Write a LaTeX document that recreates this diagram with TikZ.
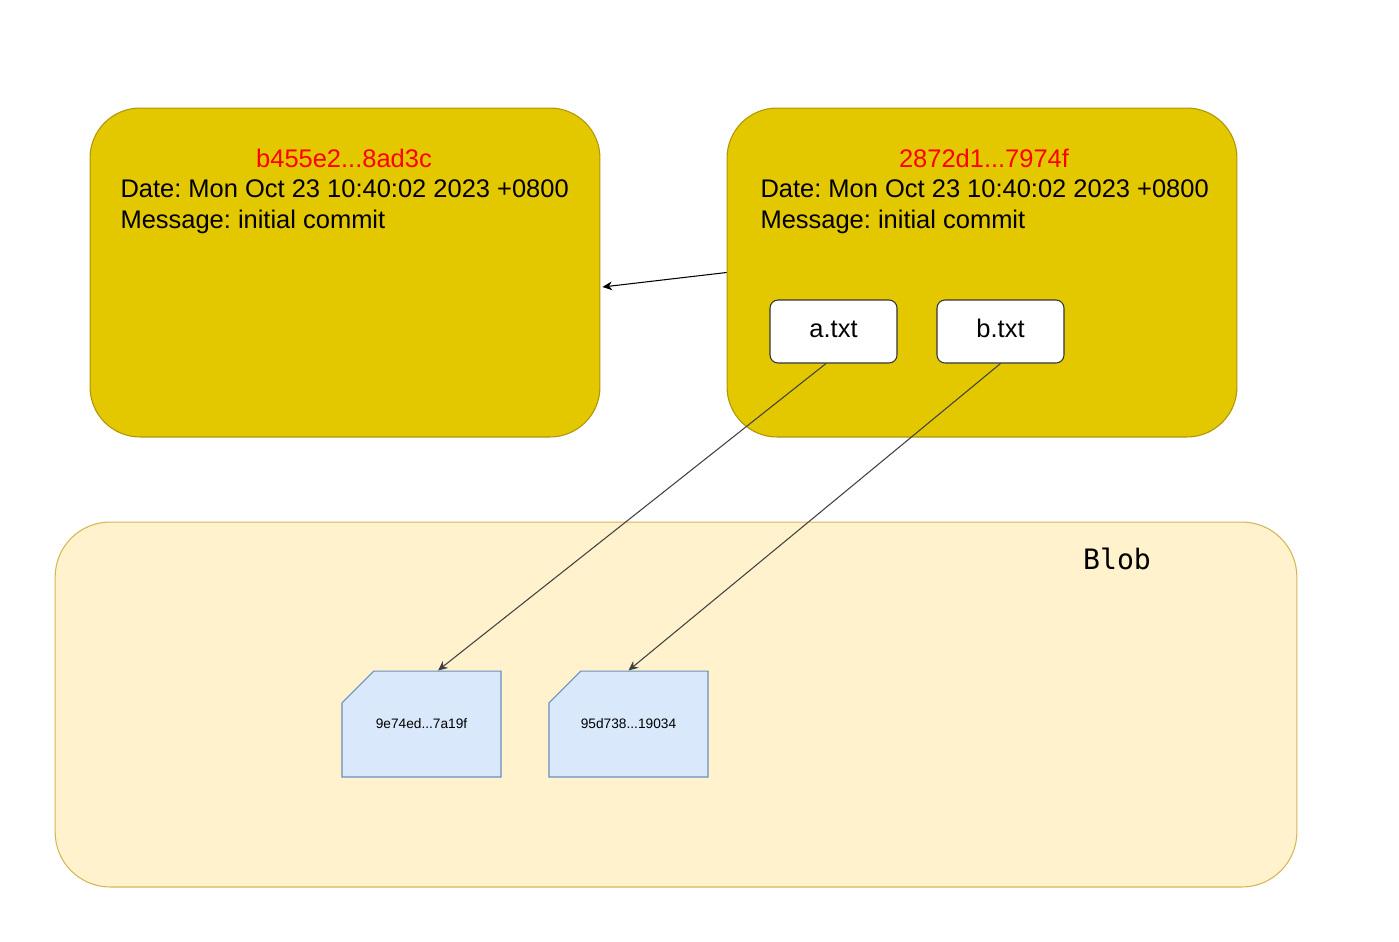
\documentclass[tikz,border=0pt]{standalone}
\usepackage{fontspec}
\setmainfont{Liberation Sans}
\newfontfamily\blobfont{DejaVu Sans Mono}
\usetikzlibrary{arrows.meta,shapes.misc}
\definecolor{cfill}{HTML}{E3C800}\definecolor{cline}{HTML}{B09500}
\definecolor{bfill}{HTML}{FFF2CC}\definecolor{bline}{HTML}{D6B656}
\definecolor{kfill}{HTML}{DAE8FC}\definecolor{kline}{HTML}{6C8EBF}
\frenchspacing
\begin{document}
\begin{tikzpicture}
[x=0.02cm,y=-0.02cm,line width=0.6pt,
cbox/.style={rectangle,rounded corners=1cm,draw=cline,fill=cfill,minimum width=10.2cm,minimum height=6.58cm},
hs/.style={anchor=base,inner sep=0pt,text=red,font=\fontsize{14.5}{17}\selectfont},
tx/.style={anchor=base west,inner sep=0pt,font=\fontsize{14.5}{17}\selectfont},
fbox/.style={rectangle,rounded corners=0.16cm,draw=black!80,fill=white,minimum width=2.54cm,minimum height=1.26cm,text height=0.72em,text depth=0pt,font=\fontsize{14.5}{17}\selectfont},
kcard/.style={chamfered rectangle,chamfered rectangle corners=north west,chamfered rectangle sep=0.42cm,draw=kline,fill=kfill,minimum width=3.18cm,minimum height=2.12cm,font=\fontsize{7.8}{9}\selectfont},
ar/.style={-{Stealth[length=5.5pt,width=5pt]}}]
\useasboundingbox (0,0) rectangle (1399,941);
\node(pool) at (676,704.5)[rectangle,rounded corners=1.1cm,draw=bline,fill=bfill,minimum width=24.84cm,minimum height=7.3cm]{};
\node(lbl) at (1117,569)[anchor=base,font=\blobfont\fontsize{16}{19}\selectfont]{Blob};
\node(c1) at (345,272.5)[cbox]{};\node(c2) at (982,272.5)[cbox]{};
\node(h1) at (344,167)[hs]{b455e2...8ad3c};\node(h2) at (984,167)[hs]{2872d1...7974f};
\node(d1) at (120,197)[tx]{Date: Mon Oct 23 10:40:02 2023 +0800};\node(d2) at (760,197)[tx]{Date: Mon Oct 23 10:40:02 2023 +0800};
\node(m1) at (120,228)[tx]{Message: initial commit};\node(m2) at (760,228)[tx]{Message: initial commit};
\node(a) at (833.5,331.5)[fbox]{a.txt};\node(b) at (1000.5,331.5)[fbox]{b.txt};
\node(k1) at (421.5,724)[kcard]{9e74ed...7a19f};\node(k2) at (628.5,724)[kcard]{95d738...19034};
\draw[ar](c2.west)--([yshift=-0.29cm,xshift=0.04cm]c1.east);
\draw[ar,draw=black!75]([xshift=-0.15cm]a.south)--([xshift=0.33cm]k1.north);\draw[ar,draw=black!75](b.south)--(k2.north);
\end{tikzpicture}
\end{document}
